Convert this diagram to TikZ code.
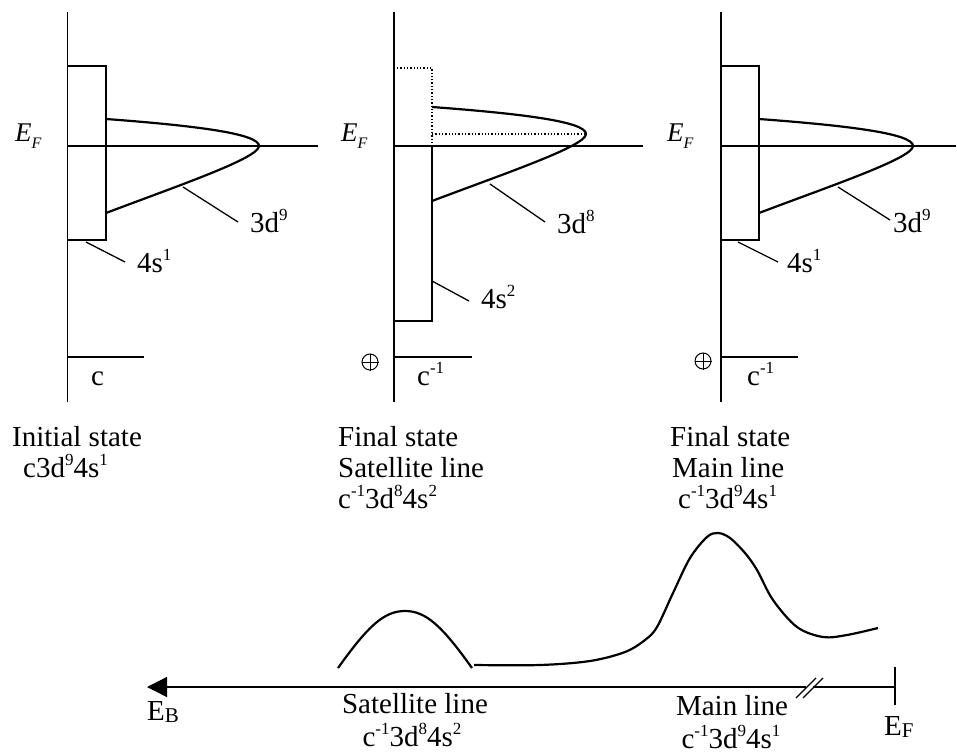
\documentclass[tikz,border=0pt]{standalone}
\usepackage{fontspec}
\setmainfont{Liberation Serif}
\usetikzlibrary{arrows.meta}
\newcommand\sps[1]{\raisebox{11.5pt}{\fontsize{17}{17}\selectfont #1}}
\newcommand\EFit{{\fontsize{27}{27}\selectfont\itshape E}\raisebox{-6.5pt}{\fontsize{16}{16}\selectfont\itshape F}}
\newcommand\Esub[1]{E\raisebox{-2pt}{\fontsize{21}{21}\selectfont #1}}
\begin{document}
\begin{tikzpicture}[x=1pt,y=-1pt,
  ln/.style={line width=1.3pt},
  band/.style={line width=2.2pt},
  dotln/.style={line width=1.3pt, dotted},
  txt/.style={inner sep=0pt, anchor=base west, font=\fontsize{29}{33}\selectfont},
  ctxt/.style={inner sep=0pt, anchor=base, text depth=0pt, font=\fontsize{29}{33}\selectfont},
  plus/.style={circle, draw, line width=1pt, inner sep=0pt, minimum size=16pt}]
\useasboundingbox (0,0) rectangle (957,754);

% ---------------- Panel 1 ----------------
\coordinate (a1t) at (67.7,12); \coordinate (a1b) at (67.7,402);
\draw[ln] (a1t) -- (a1b);
\draw[ln] (67.7,66) rectangle (106,240);
\coordinate (f1l) at (67.7,146); \coordinate (f1r) at (318,146);
\draw[ln] (f1l) -- (f1r);
\draw[band] (106,119) .. controls (200,126) and (259,134) .. (259,146)
            .. controls (259,158) and (180,185) .. (106,213);
\node[txt] (d1) at (250,232) {3d\sps{9}};
\coordinate (d1a) at (183,187); \coordinate (d1b) at (238,222);
\draw[ln] (d1a) -- (d1b);
\node[txt] (s1) at (137,272) {4s\sps{1}};
\coordinate (s1a) at (86,242); \coordinate (s1b) at (125,262);
\draw[ln] (s1a) -- (s1b);
\coordinate (c1l) at (67.7,357); \coordinate (c1r) at (144,357);
\draw[ln] (c1l) -- (c1r);
\node[txt] (c1) at (91,385) {c};
\node[txt] (ef1) at (15,142) {\EFit};
\node[txt] (cap1a) at (12,446) {Initial state};
\node[txt] (cap1b) at (23,477) {c3d\sps{9}4s\sps{1}};

% ---------------- Panel 2 ----------------
\coordinate (a2t) at (394,12); \coordinate (a2b) at (394,402);
\draw[dotln] (394,68) rectangle (432,146);
\draw[ln] (394,146) rectangle (432,321);
\draw[ln] (a2t) -- (a2b);
\coordinate (f2l) at (394,146); \coordinate (f2r) at (643,146);
\draw[ln] (f2l) -- (f2r);
\coordinate (dt2l) at (432,134); \coordinate (dt2r) at (586,134);
\draw[dotln] (dt2l) -- (dt2r);
\draw[band] (432,107) .. controls (526,114) and (586,122) .. (586,134)
            .. controls (586,146) and (506,173) .. (432,201);
\node[txt] (d2) at (557,233) {3d\sps{8}};
\coordinate (d2a) at (490,184); \coordinate (d2b) at (545,222);
\draw[ln] (d2a) -- (d2b);
\node[txt] (s2) at (481,308) {4s\sps{2}};
\coordinate (s2a) at (432,281); \coordinate (s2b) at (469,301);
\draw[ln] (s2a) -- (s2b);
\coordinate (c2l) at (394,357); \coordinate (c2r) at (472,357);
\draw[ln] (c2l) -- (c2r);
\node[txt] (c2) at (417,385) {c\sps{-1}};
\node[plus] (p2) at (370,362) {};
\draw[line width=1pt] (p2.north) -- (p2.south) (p2.west) -- (p2.east);
\node[txt] (ef2) at (341,142) {\EFit};
\node[txt] (cap2a) at (338,446) {Final state};
\node[txt] (cap2b) at (338,477) {Satellite line};
\node[txt] (cap2c) at (338,508) {c\sps{-1}3d\sps{8}4s\sps{2}};

% ---------------- Panel 3 ----------------
\coordinate (a3t) at (721,12); \coordinate (a3b) at (721,402);
\draw[ln] (a3t) -- (a3b);
\draw[ln] (721,66) rectangle (759,240);
\coordinate (f3l) at (721,146); \coordinate (f3r) at (956,146);
\draw[ln] (f3l) -- (f3r);
\draw[band] (759,119) .. controls (853,126) and (913,134) .. (913,146)
            .. controls (913,158) and (833,185) .. (759,213);
\node[txt] (d3) at (893,232) {3d\sps{9}};
\coordinate (d3a) at (838,187); \coordinate (d3b) at (890,220);
\draw[ln] (d3a) -- (d3b);
\node[txt] (s3) at (787,272) {4s\sps{1}};
\coordinate (s3a) at (738,242); \coordinate (s3b) at (778,262);
\draw[ln] (s3a) -- (s3b);
\coordinate (c3l) at (721,357); \coordinate (c3r) at (798,357);
\draw[ln] (c3l) -- (c3r);
\node[txt] (c3) at (747,385) {c\sps{-1}};
\node[plus] (p3) at (703,361) {};
\draw[line width=1pt] (p3.north) -- (p3.south) (p3.west) -- (p3.east);
\node[txt] (ef3) at (667,142) {\EFit};
\node[txt] (cap3a) at (670,446) {Final state};
\node[txt] (cap3b) at (672,477) {Main line};
\node[txt] (cap3c) at (678,508) {c\sps{-1}3d\sps{9}4s\sps{1}};

% ---------------- Spectrum ----------------
\coordinate (axL) at (147,687);
\coordinate (brkL) at (806,687); \coordinate (brkR) at (813,687);
\coordinate (axR) at (895,687);
\draw[ln, {Triangle[length=20pt,width=20pt]}-] (axL) -- (brkL);
\draw[ln] (brkR) -- (axR);
\draw[ln] (796,698) -- (816,678);
\draw[ln] (803,698) -- (823,678);
\coordinate (tkT) at (895,667); \coordinate (tkB) at (895,705);
\draw[ln] (tkT) -- (tkB);
\node[txt] (eb) at (147,720) {\Esub{B}};
\node[txt] (efb) at (884,735) {\Esub{F}};

\draw[band] (338,668) .. controls (368,626) and (384,611) .. (405,611)
            .. controls (426,611) and (442,626) .. (472,668);
\draw[band] plot[smooth, tension=0.55] coordinates {
  (474,665) (540,665) (590,661) (625,652) (645,640) (657,627) (673,593)
  (690,558) (707,537) (718,533) (730,538) (745,553) (757,570) (773,600)
  (797,627) (823,637) (847,635) (878,628)};

\node[ctxt] (satl) at (415,713) {Satellite line};
\node[ctxt] (satc) at (412,746) {c\sps{-1}3d\sps{8}4s\sps{2}};
\node[ctxt] (mainl) at (732,715) {Main line};
\node[ctxt] (mainc) at (731,748) {c\sps{-1}3d\sps{9}4s\sps{1}};
\end{tikzpicture}
\end{document}
